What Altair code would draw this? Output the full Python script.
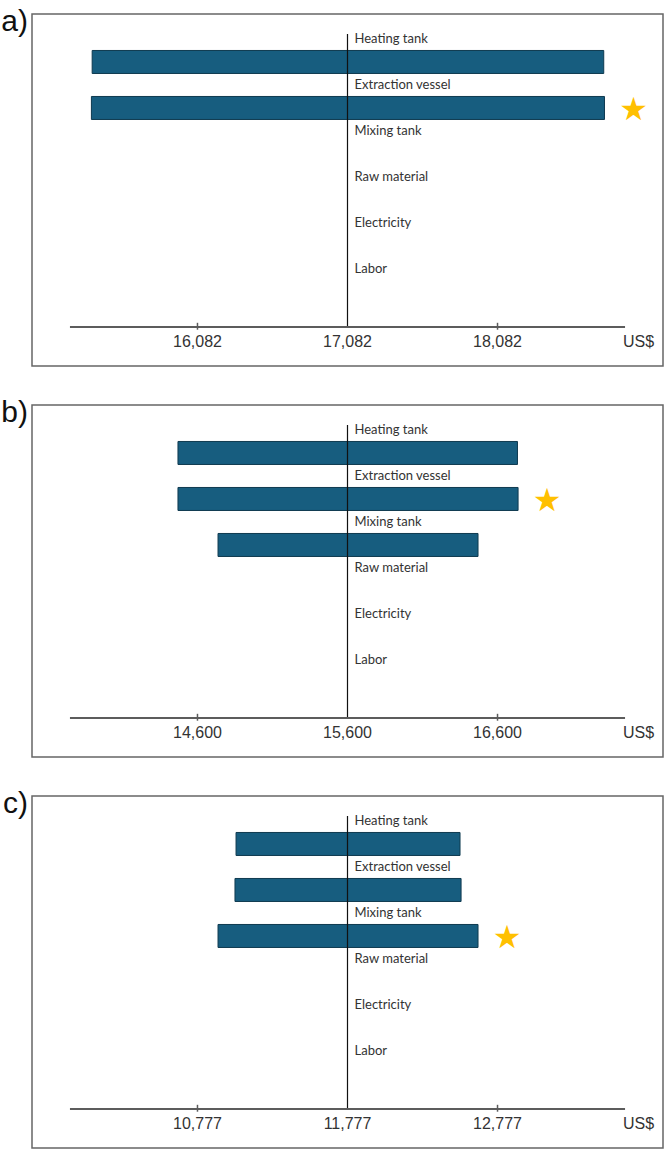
import altair as alt
import pandas as pd

# ---------------- data ----------------
categories = ["Heating tank", "Extraction vessel", "Mixing tank",
              "Raw material", "Electricity", "Labor"]
panel_labels = ["a)", "b)", "c)"]
base_costs = [17082, 15600, 11777]
bar_categories = [
    ["Heating tank", "Extraction vessel"],
    ["Heating tank", "Extraction vessel", "Mixing tank"],
    ["Heating tank", "Extraction vessel", "Mixing tank"],
]
low_values = [[15380, 15375], [14470, 14470, 14737], [11034, 11027, 10914]]
high_values = [[18790, 18795], [16733, 16737, 16470], [12527, 12534, 12647]]
star_category = ["Extraction vessel", "Extraction vessel", "Mixing tank"]
unit_label = "US$"
tick_step = 1000

# ---------------- layout ----------------
HALF_VIEW = 2103
HALF_AXIS = 1850
AXIS_ROW = 6.26
LINE_TOP = -0.11
TITLE_ROW = -0.37
Y_MIN, Y_MAX = -0.543, 7.109
W, H = 631, 352
BAR_FILL = "#175d7f"
BAR_STROKE = "#0f3a50"
STAR = "#FFC000"
LABEL_FONT = "Lato"
NUM_FONT = "Liberation Sans"


def panel(i):
    base = base_costs[i]
    xs = alt.Scale(domain=[base - HALF_VIEW, base + HALF_VIEW], nice=False,
                   zero=False, padding=0)
    ys = alt.Scale(domain=[Y_MAX, Y_MIN], nice=False, zero=False, padding=0)

    bars_df = pd.DataFrame({
        "cat": bar_categories[i],
        "lo": low_values[i],
        "hi": high_values[i],
    })
    bars_df["row"] = [categories.index(c) + 0.5 for c in bars_df["cat"]]

    bars = alt.Chart(bars_df).mark_bar(
        size=23, color=BAR_FILL, stroke=BAR_STROKE, strokeWidth=1
    ).encode(
        x=alt.X("lo:Q", scale=xs, axis=None),
        x2=alt.X2("hi"),
        y=alt.Y("row:Q", scale=ys, axis=None),
    )

    lab_df = pd.DataFrame({"cat": categories,
                           "row": list(range(len(categories))),
                           "px": [base] * len(categories)})
    labels = alt.Chart(lab_df).mark_text(
        align="left", baseline="middle", dx=7, font=LABEL_FONT,
        fontSize=13, color="#333333"
    ).encode(x=alt.X("px:Q", scale=xs, axis=None),
             y=alt.Y("row:Q", scale=ys, axis=None),
             text=alt.Text("cat:N"))

    center_df = pd.DataFrame({"px": [base], "ra": [LINE_TOP], "rb": [AXIS_ROW]})
    center = alt.Chart(center_df).mark_rule(color="#111111", strokeWidth=1.2).encode(
        x=alt.X("px:Q", scale=xs, axis=None),
        y=alt.Y("ra:Q", scale=ys, axis=None),
        y2=alt.Y2("rb"),
    )

    axis_df = pd.DataFrame({"pa": [base - HALF_AXIS], "pb": [base + HALF_AXIS], "ra": [AXIS_ROW]})
    axis_line = alt.Chart(axis_df).mark_rule(color="#5c5c5c", strokeWidth=2).encode(
        x=alt.X("pa:Q", scale=xs, axis=None),
        x2=alt.X2("pb"),
        y=alt.Y("ra:Q", scale=ys, axis=None),
    )

    tick_df = pd.DataFrame({"tv": [base - tick_step, base + tick_step],
                            "ra": [AXIS_ROW - 0.09] * 2,
                            "rb": [AXIS_ROW + 0.06] * 2})
    ticks = alt.Chart(tick_df).mark_rule(color="#5c5c5c", strokeWidth=1.5).encode(
        x=alt.X("tv:Q", scale=xs, axis=None),
        y=alt.Y("ra:Q", scale=ys, axis=None),
        y2=alt.Y2("rb"),
    )

    tl_df = pd.DataFrame({"tv": [base - tick_step, base, base + tick_step],
                          "ra": [AXIS_ROW] * 3})
    tick_labels = alt.Chart(tl_df).mark_text(
        baseline="middle", dy=15, font=NUM_FONT, fontSize=16, color="#333333"
    ).encode(
        x=alt.X("tv:Q", scale=xs, axis=None),
        y=alt.Y("ra:Q", scale=ys, axis=None),
        text=alt.Text("tv:Q", format=","),
    )

    unit_df = pd.DataFrame({"px": [base + HALF_AXIS], "ra": [AXIS_ROW], "u": [unit_label]})
    unit = alt.Chart(unit_df).mark_text(
        align="left", baseline="middle", dx=-2, dy=15, font=NUM_FONT,
        fontSize=16, color="#333333"
    ).encode(
        x=alt.X("px:Q", scale=xs, axis=None),
        y=alt.Y("ra:Q", scale=ys, axis=None),
        text=alt.Text("u:N"),
    )

    k = bar_categories[i].index(star_category[i])
    star_df = pd.DataFrame({"px": [high_values[i][k]],
                            "row": [categories.index(star_category[i]) + 0.5],
                            "s": ["★"]})
    star = alt.Chart(star_df).mark_text(
        align="center", baseline="middle", dx=29, dy=2, font="DejaVu Sans",
        fontSize=32, color=STAR
    ).encode(
        x=alt.X("px:Q", scale=xs, axis=None),
        y=alt.Y("row:Q", scale=ys, axis=None),
        text=alt.Text("s:N"),
    )

    pl_df = pd.DataFrame({"px": [base - HALF_VIEW], "ra": [TITLE_ROW],
                          "t": [panel_labels[i]]})
    plabel = alt.Chart(pl_df).mark_text(
        align="right", baseline="middle", dx=-4, font=NUM_FONT, fontSize=30,
        color="#111111"
    ).encode(
        x=alt.X("px:Q", scale=xs, axis=None),
        y=alt.Y("ra:Q", scale=ys, axis=None),
        text=alt.Text("t:N"),
    )

    return alt.layer(bars, center, axis_line, ticks, labels, tick_labels, unit,
                     star, plabel).properties(width=W, height=H)


chart = alt.vconcat(panel(0), panel(1), panel(2), spacing=30).resolve_scale(
    x="independent", y="independent"
).configure_view(
    stroke="#666666", strokeWidth=1.5
).properties(
    padding={"left": 0, "top": 6, "right": 0, "bottom": 0}
)

chart.save("out.html", embed_options={"renderer": "svg", "actions": False})
